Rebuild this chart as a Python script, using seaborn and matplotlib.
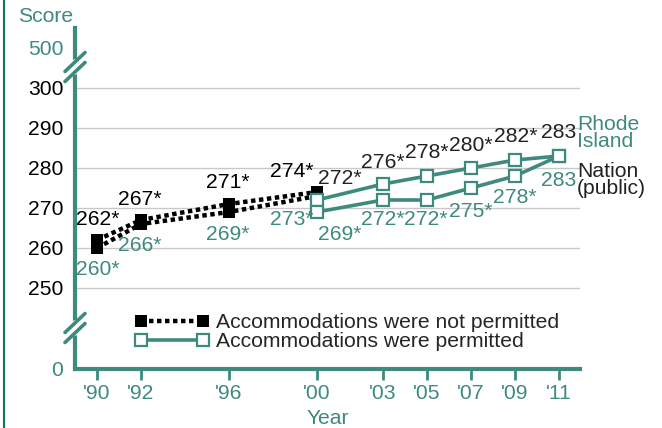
import matplotlib
matplotlib.use("Agg")
import matplotlib.pyplot as plt
from matplotlib.lines import Line2D
from matplotlib.transforms import IdentityTransform
import seaborn as sns
import pandas as pd

# data
years_np = [1990, 1992, 1996, 2000]
nation_np = [262, 267, 271, 274]
ri_np = [260, 266, 269, 273]
years_p = [2000, 2003, 2005, 2007, 2009, 2011]
nation_p = [272, 276, 278, 280, 282, 283]
ri_p = [269, 272, 272, 275, 278, 283]
nation_np_lab = ["262*", "267*", "271*", "274*"]
ri_np_lab = ["260*", "266*", "269*", "273*"]
nation_p_lab = ["272*", "276*", "278*", "280*", "282*", "283"]
ri_p_lab = ["269*", "272*", "272*", "275*", "278*", "283"]
tick_years = [1990, 1992, 1996, 2000, 2003, 2005, 2007, 2009, 2011]
tick_labels = ["'90", "'92", "'96", "'00", "'03", "'05", "'07", "'09", "'11"]

# label offsets in pixels (dx, dy)
nation_np_off = [(1, 20), (-1, 20), (-1, 21), (-25, 20)]
ri_np_off = [(1, -22), (-1, -22), (-1, -23), (-25, -24)]
nation_p_off = [(23, 21), (0, 21), (0, 23), (0, 22), (1, 23), (0, 23)]
ri_p_off = [(23, -23), (0, -20), (-1, -20), (0, -24), (0, -22), (0, -25)]

TEAL = "#3f8a7e"
DARK = "#222222"

sns.set_style("white")
plt.rcParams["font.family"] = ["Liberation Sans", "DejaVu Sans"]
FS = 15.2

fig = plt.figure(figsize=(6.62, 4.28), dpi=100)
W, H = 662, 428
ax = fig.add_axes([75 / W, (H - 369) / H, (580 - 75) / W, (369 - 28) / H])

df_np = pd.DataFrame({"year": years_np * 2, "score": nation_np + ri_np,
                      "who": ["Nation"] * 4 + ["RI"] * 4})
df_p = pd.DataFrame({"year": years_p * 2, "score": nation_p + ri_p,
                     "who": ["Nation"] * 6 + ["RI"] * 6})

for who in ["Nation", "RI"]:
    sub = df_np[df_np.who == who]
    sns.lineplot(data=sub, x="year", y="score", ax=ax, color="black",
                 linestyle=(0, (1, 0.8)), linewidth=3.2, marker="s",
                 markersize=9, markerfacecolor="black", markeredgecolor="black",
                 markeredgewidth=0, legend=False, zorder=3)
for who in ["Nation", "RI"]:
    sub = df_p[df_p.who == who]
    sns.lineplot(data=sub, x="year", y="score", ax=ax, color=TEAL,
                 linestyle="-", linewidth=2.6, marker="s",
                 markersize=8, markerfacecolor="white", markeredgecolor=TEAL,
                 markeredgewidth=1.6, legend=False, zorder=4)


def put_labels(xs, ys, labs, offs, color):
    for x, y, t, (dx, dy) in zip(xs, ys, labs, offs):
        ax.annotate(t, (x, y), xytext=(dx, dy), textcoords="offset pixels",
                    ha="center", va="center", fontsize=FS, color=color, zorder=5)


put_labels(years_np, nation_np, nation_np_lab, nation_np_off, "black")
put_labels(years_np, ri_np, ri_np_lab, ri_np_off, TEAL)
put_labels(years_p, nation_p, nation_p_lab, nation_p_off, DARK)
put_labels(years_p, ri_p, ri_p_lab, ri_p_off, TEAL)

ax.annotate("Rhode\nIsland", (years_p[-1], ri_p[-1]), xytext=(18, 23),
            textcoords="offset pixels", ha="left", va="center", fontsize=FS,
            color=TEAL, linespacing=0.9)
ax.annotate("Nation\n(public)", (years_p[-1], nation_p[-1]), xytext=(18, -24),
            textcoords="offset pixels", ha="left", va="center", fontsize=FS,
            color=DARK, linespacing=0.9)

# axes
ax.set_xlim(1989, 2011.95)
ax.set_ylim(229.75, 315)
ax.set_yticks([250, 260, 270, 280, 290, 300])
ax.set_yticks([229.75, 310], minor=True)
ax.set_yticklabels(["0", "500"], minor=True, color=TEAL)
ax.tick_params(axis="y", which="both", length=0, pad=8.5, labelsize=FS, labelcolor="black")
for lab in ax.get_yticklabels(minor=True):
    lab.set_color(TEAL)
ax.set_xticks(tick_years)
ax.set_xticklabels(tick_labels)
ax.tick_params(axis="x", length=8, width=2, color=TEAL, labelcolor=TEAL,
               labelsize=FS, pad=3, bottom=True, direction="out")
ax.grid(axis="y", which="major", color="#c8c8c8", linewidth=1)
ax.set_axisbelow(True)
for s in ["top", "right"]:
    ax.spines[s].set_visible(False)
for s in ["left", "bottom"]:
    ax.spines[s].set_color(TEAL)
    ax.spines[s].set_linewidth(3)
ax.set_xlabel("Year", fontsize=FS, color=TEAL, labelpad=4)
ax.set_ylabel("")
fig.text(18 / W, 1 - 16 / H, "Score", fontsize=FS, color=TEAL, ha="left", va="center")

# axis breaks
fig.canvas.draw()
for yv in [305.25, 240]:
    px, py = ax.transData.transform((1989, yv))
    fig.add_artist(Line2D([px, px], [py - 5, py + 5], color="white", linewidth=4,
                          transform=IdentityTransform(), zorder=10))
    for off in [-5, 5]:
        fig.add_artist(Line2D([px - 10, px + 10], [py + off - 9.5, py + off + 9.5],
                              color=TEAL, linewidth=2.6,
                              transform=IdentityTransform(), zorder=11))

# legend
h1 = Line2D([], [], color="black", linestyle=(0, (1, 0.8)), linewidth=3.2,
            marker="s", markersize=9, markerfacecolor="black", markeredgewidth=0)
h2 = Line2D([], [], color=TEAL, linewidth=2.6, marker="s", markersize=8,
            markerfacecolor="white", markeredgecolor=TEAL, markeredgewidth=1.6)
ax.legend([h1, h2], ["Accommodations were not permitted", "Accommodations were permitted"],
          loc="center left", bbox_to_anchor=((135 - 75) / 505, (369 - 332) / 341),
          frameon=False, numpoints=2, handlelength=3.5, handletextpad=0.35,
          labelspacing=0.0, fontsize=FS, borderaxespad=0, borderpad=0)

# left border
fig.add_artist(Line2D([4 / W, 4 / W], [0, 1], color="#0a7a5a", linewidth=1.5,
                      transform=fig.transFigure))

fig.savefig("out.png", dpi=100)
